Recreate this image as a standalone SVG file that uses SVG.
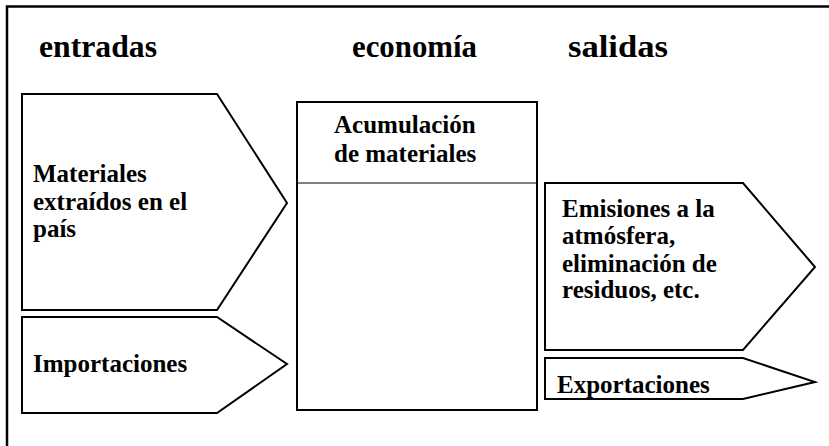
<svg xmlns="http://www.w3.org/2000/svg" width="829" height="446" viewBox="0 0 829 446">
<style>
.shape{fill:#fff;stroke:#000;stroke-width:2}
.frame{fill:none;stroke:#000;stroke-width:2.5}
text{font-family:'Liberation Serif','DejaVu Serif',serif;font-weight:bold;fill:#000}
.title{font-size:31px}
.lbl{font-size:25px}
</style>
<rect width="829" height="446" fill="#fff"/>
<path class="frame" d="M7,446 V6.5 H829"/>
<g id="titles">
<text class="title" x="39" y="57" textLength="118" lengthAdjust="spacingAndGlyphs">entradas</text>
<text class="title" x="352" y="57" textLength="125" lengthAdjust="spacingAndGlyphs">economía</text>
<text class="title" x="568" y="57" textLength="100" lengthAdjust="spacingAndGlyphs">salidas</text>
</g>
<g id="materiales">
<polygon class="shape" points="22,94 217,94 287,203 217,310 22,310"/>
<text class="lbl" x="33" y="182">Materiales</text>
<text class="lbl" x="33" y="210">extraídos en el</text>
<text class="lbl" x="33" y="237">país</text>
</g>
<g id="importaciones">
<polygon class="shape" points="22,317 217,317 287,364 217,413 22,413"/>
<text class="lbl" x="33" y="372">Importaciones</text>
</g>
<g id="acumulacion">
<rect class="shape" x="297" y="102" width="240" height="308"/>
<line x1="297" y1="183" x2="537" y2="183" stroke="#000" stroke-width="1"/>
<text class="lbl" x="334" y="133">Acumulación</text>
<text class="lbl" x="334" y="162">de materiales</text>
</g>
<g id="emisiones">
<polygon class="shape" points="545,183 743,183 815,267 743,350 545,350"/>
<text class="lbl" x="562" y="217">Emisiones a la</text>
<text class="lbl" x="562" y="244">atmósfera,</text>
<text class="lbl" x="562" y="272">eliminación de</text>
<text class="lbl" x="562" y="298">residuos, etc.</text>
</g>
<g id="exportaciones">
<polygon class="shape" points="545,358 743,358 815,382 743,399 545,399"/>
<text class="lbl" x="557" y="393">Exportaciones</text>
</g>
<g id="connectors"></g>
</svg>
